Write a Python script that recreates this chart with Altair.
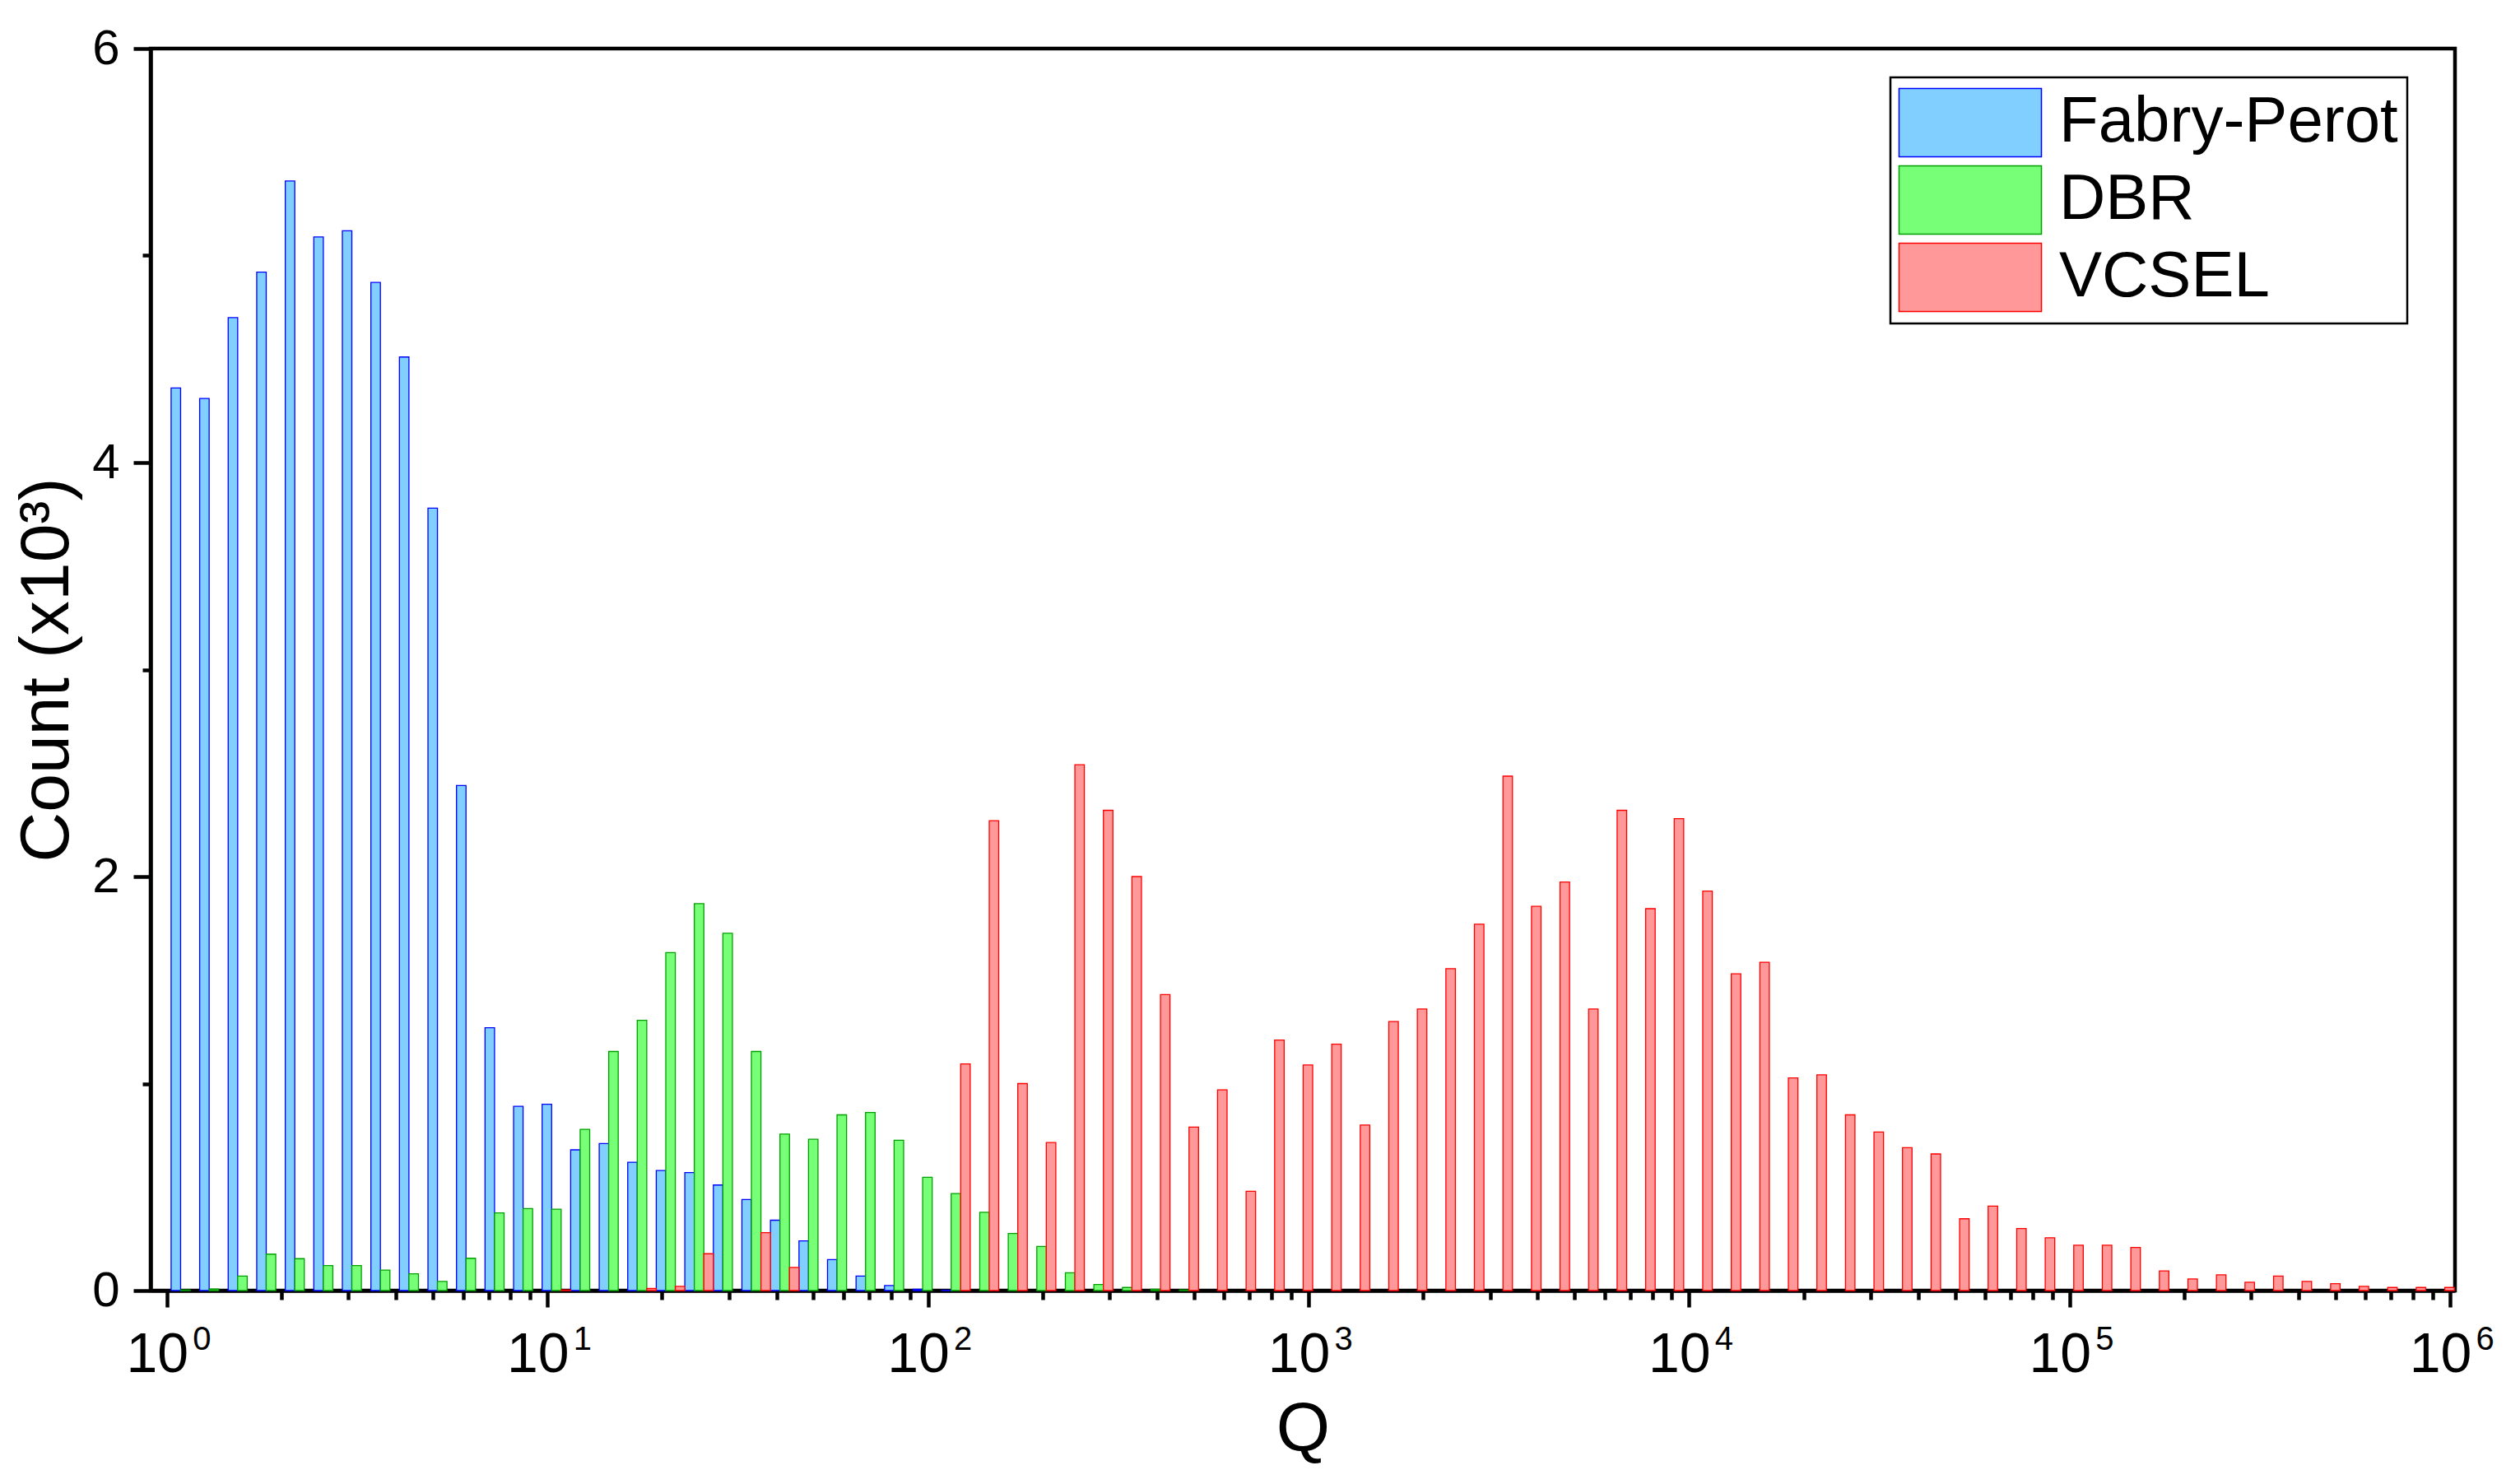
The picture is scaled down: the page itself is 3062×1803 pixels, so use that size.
import altair as alt
import pandas as pd

# Histogram bins: logarithmic, each bin BIN_WIDTH decades wide, first bin starts at 10**BIN_START
BIN_START = 0.011
BIN_WIDTH = 0.075

series_names = ["Fabry-Perot", "DBR", "VCSEL"]
fill_colors = ["#80CFFF", "#77FF77", "#FF9999"]
stroke_colors = ["#0000FF", "#00A000", "#FF0000"]

# counts (x10^3) per bin, bin index starting at 0
fabry_perot = [4.36, 4.31, 4.70, 4.92, 5.36, 5.09, 5.12, 4.87, 4.51, 3.78,
               2.44, 1.27, 0.89, 0.90, 0.68, 0.71, 0.62, 0.58, 0.57, 0.51,
               0.44, 0.34, 0.24, 0.15, 0.07, 0.024, 0.006, 0.002]

dbr = [0.003, 0.007, 0.07, 0.176, 0.154, 0.121, 0.121, 0.099, 0.081, 0.044,
       0.156, 0.375, 0.396, 0.393, 0.779, 1.155, 1.306, 1.633, 1.869, 1.726,
       1.155, 0.756, 0.731, 0.849, 0.860, 0.726, 0.547, 0.469, 0.378, 0.276,
       0.213, 0.086, 0.029, 0.015, 0.006, 0.003]

vcsel = [0, 0, 0, 0, 0, 0, 0, 0, 0, 0,
         0, 0, 0, 0.003, 0, 0, 0.01, 0.02, 0.178, 0,
         0.28, 0.112, 0, 0, 0, 0, 0, 1.095, 2.27, 1.00,
         0.715, 2.54, 2.32, 2.00, 1.43, 0.79, 0.97, 0.48, 1.21, 1.09,
         1.19, 0.80, 1.30, 1.36, 1.555, 1.77, 2.485, 1.856, 1.974, 1.36,
         2.32, 1.845, 2.28, 1.93, 1.53, 1.586, 1.027, 1.042, 0.849, 0.766,
         0.69, 0.66, 0.347, 0.408, 0.30, 0.255, 0.219, 0.219, 0.208, 0.095,
         0.056, 0.076, 0.040, 0.070, 0.044, 0.033, 0.020, 0.015, 0.015, 0.015]

series_values = [fabry_perot, dbr, vcsel]

# axis tick positions
decades = [1, 10, 100, 1000, 10000, 100000, 1000000]
x_tick_values = [m * 10 ** e for e in range(0, 6) for m in range(1, 10)] + [10 ** 6]
y_tick_values = [0, 1, 2, 3, 4, 5, 6]

rows = []
for j, (name, vals) in enumerate(zip(series_names, series_values)):
    for k, v in enumerate(vals):
        if v <= 0:
            continue
        lo = BIN_START + BIN_WIDTH * k + BIN_WIDTH / 3 * j
        hi = lo + BIN_WIDTH / 3
        rows.append({"series": name, "left": 10 ** lo, "right": 10 ** hi, "count": v})
df = pd.DataFrame(rows)
dec_df = pd.DataFrame({"decade": decades})

major_test = "abs(log(datum.value)/LN10 - round(log(datum.value)/LN10)) < 0.001"
x_scale = alt.Scale(type="log", domain=[0.906, 1.03e6], nice=False)

legend = alt.Legend(
    title=None, orient="none", legendX=2114, legendY=35,
    symbolType="M-2,-0.96H2V0.96H-2Z", symbolSize=7482, symbolStrokeWidth=1.5,
    symbolOffset=42, labelOffset=64, labelFontSize=78, labelFont="Liberation Sans",
    labelColor="black", labelLimit=2000, padding=11, strokeColor="black",
    fillColor="white", rowPadding=4,
)

bars = alt.Chart(df).mark_bar(strokeWidth=1.3).encode(
    x=alt.X("left:Q", scale=x_scale,
            axis=alt.Axis(orient="bottom", values=x_tick_values,
                          labelExpr=f"({major_test}) ? '10' : ''",
                          tickSize={"condition": {"test": major_test, "value": 20}, "value": 11},
                          labelPadding=24, labelFontSize=68, labelOffset=-12, labelFlush=False,
                          labelOverlap=False, labelBound=False,
                          titleBaseline="alphabetic", titleY=193, titleFontSize=84),
            title="Q"),
    x2="right:Q",
    y=alt.Y("count:Q",
            scale=alt.Scale(domain=[0, 6], nice=False, zero=True),
            axis=alt.Axis(values=y_tick_values,
                          labelExpr="datum.value % 2 == 0 ? datum.label : ''",
                          tickSize={"condition": {"test": "datum.value % 2 == 0", "value": 21}, "value": 10},
                          labelPadding=17, labelFontSize=60,
                          titleAngle=270, titleBaseline="alphabetic", titleAlign="center",
                          titleX=-101, titleY=754.5, titleFontSize=84),
            title="Count (x10\u00b3)"),
    y2=alt.datum(0),
    fill=alt.Fill("series:N", scale=alt.Scale(domain=series_names, range=fill_colors), legend=legend),
    stroke=alt.Stroke("series:N", scale=alt.Scale(domain=series_names, range=stroke_colors), legend=legend),
)

# exponent labels of the decade ticks (superscripts), drawn as a second bottom axis
exponents = alt.Chart(dec_df).mark_point(opacity=0).encode(
    x=alt.X("decade:Q", scale=x_scale,
            axis=alt.Axis(orient="bottom", values=decades,
                          labelExpr="'' + round(log(datum.value)/LN10)",
                          ticks=False, tickSize=0, domain=False,
                          labelFontSize=40, labelAlign="left", labelOffset=31,
                          labelPadding=39, labelFlush=False, labelOverlap=False,
                          labelBound=False, title=None)),
)

chart = alt.layer(bars, exponents).resolve_axis(x="independent").properties(
    width=2800, height=1509,
    autosize=alt.AutoSizeParams(type="none"),
    padding={"left": 175, "top": 51, "right": 71, "bottom": 227},
).configure(
    font="Liberation Sans",
).configure_axis(
    grid=False, domainColor="black", domainWidth=4.5, tickColor="black", tickWidth=4.5,
    labelColor="black", titleColor="black", titleFontWeight="normal", labelFont="Liberation Sans",
    titleFont="Liberation Sans",
).configure_legend(
    strokeWidth=2.5,
).configure_view(
    stroke="black", strokeWidth=4.5,
)

chart.save("out.html", embed_options={"renderer": "svg", "actions": False})
